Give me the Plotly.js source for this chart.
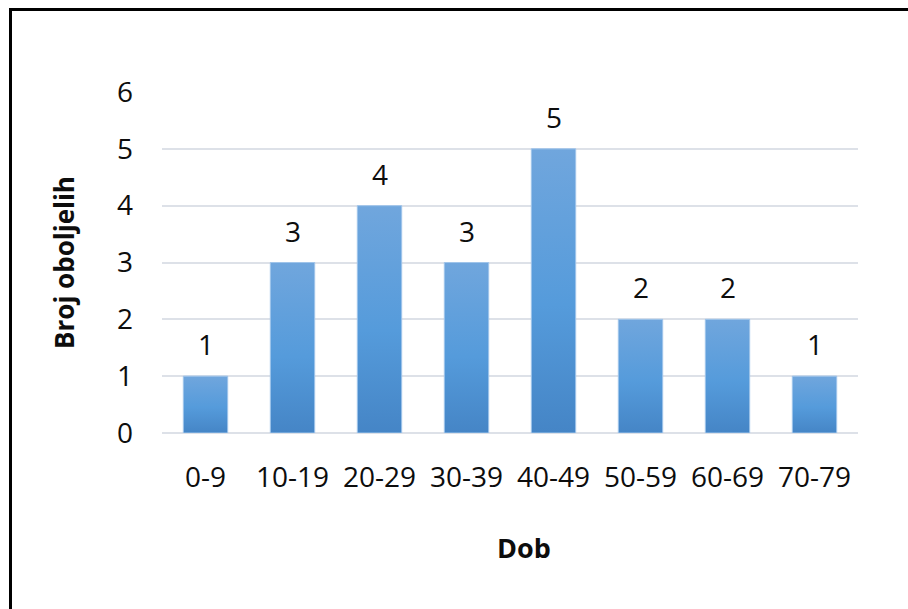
<!DOCTYPE html>
<html>
<head>
<meta charset="utf-8">
<script src="https://cdn.plot.ly/plotly-3.0.1.min.js"></script>
<style>
  html, body { margin: 0; padding: 0; background: #ffffff; }
  #wrap { position: relative; width: 908px; height: 609px; overflow: hidden; }
  #chart { position: absolute; left: 0; top: 0; width: 908px; height: 609px; }
  #frame { position: absolute; left: 9px; top: 8px; width: 920px; height: 620px;
           border-top: 3px solid #000; border-left: 3px solid #000; pointer-events: none; }
</style>
</head>
<body>
<div id="wrap">
  <div id="chart"></div>
  <div id="frame"></div>
</div>
<script>
const categories = ["0-9", "10-19", "20-29", "30-39", "40-49", "50-59", "60-69", "70-79"];
const values = [1, 3, 4, 3, 5, 2, 2, 1];
const yTitle = "Broj oboljelih";
const xTitle = "Dob";

const fontFamily = "'Open Sans', 'Noto Sans', sans-serif";
const textColor = "#0d0d0d";
const gridColor = "#dde1e8";

const trace = {
  type: "bar",
  x: categories,
  y: values,
  marker: { color: "#5599d8", line: { color: "#9fc4ea", width: 1 } },
  hoverinfo: "skip"
};

const labelAnnotations = categories.map((c, i) => ({
  x: c, y: values[i], xref: "x", yref: "y",
  text: String(values[i]), showarrow: false,
  yanchor: "bottom", yshift: 11,
  font: { family: fontFamily, size: 28, color: textColor }
}));

const xTitleAnnotation = {
  x: 0.52, y: -0.337, xref: "paper", yref: "paper",
  xanchor: "center", yanchor: "middle", showarrow: false,
  text: xTitle,
  font: { family: fontFamily, size: 27, color: textColor, weight: "bold" }
};

const layout = {
  width: 908, height: 609,
  margin: { l: 162, r: 50, t: 92, b: 176 },
  paper_bgcolor: "#ffffff", plot_bgcolor: "#ffffff",
  bargap: 0.49,
  showlegend: false,
  font: { family: fontFamily, color: textColor },
  xaxis: {
    type: "category",
    tickfont: { family: fontFamily, size: 28, color: textColor },
    ticklabelstandoff: 25,
    showgrid: false, showline: false, ticks: ""
  },
  yaxis: {
    range: [0, 6], dtick: 1, tick0: 0,
    tickfont: { family: fontFamily, size: 28, color: textColor },
    ticklabelstandoff: 28,
    showgrid: true, gridcolor: gridColor, gridwidth: 2,
    zeroline: true, zerolinecolor: gridColor, zerolinewidth: 2,
    showline: false, ticks: "",
    title: { text: yTitle, font: { family: fontFamily, size: 26, color: textColor, weight: "bold" }, standoff: 34 }
  },
  annotations: labelAnnotations.concat([xTitleAnnotation])
};

function applyGradient(gd) {
  const svg = gd.querySelector("svg.main-svg");
  if (!svg) return;
  let defs = svg.querySelector("defs");
  if (!defs) { defs = document.createElementNS("http://www.w3.org/2000/svg", "defs"); svg.insertBefore(defs, svg.firstChild); }
  if (!svg.querySelector("#barGrad")) {
    const g = document.createElementNS("http://www.w3.org/2000/svg", "linearGradient");
    g.setAttribute("id", "barGrad");
    g.setAttribute("x1", "0"); g.setAttribute("y1", "0");
    g.setAttribute("x2", "0"); g.setAttribute("y2", "1");
    [["0", "#70a6dd"], ["0.55", "#559bdb"], ["1", "#4585c6"]].forEach(([o, col]) => {
      const s = document.createElementNS("http://www.w3.org/2000/svg", "stop");
      s.setAttribute("offset", o); s.setAttribute("stop-color", col);
      g.appendChild(s);
    });
    defs.appendChild(g);
  }
  gd.querySelectorAll(".bars .point path").forEach(p => { p.style.fill = "url(#barGrad)"; });
}

Plotly.newPlot("chart", [trace], layout, { staticPlot: true, displayModeBar: false }).then(gd => {
  applyGradient(gd);
  gd.on("plotly_afterplot", () => applyGradient(gd));
});
</script>
</body>
</html>
